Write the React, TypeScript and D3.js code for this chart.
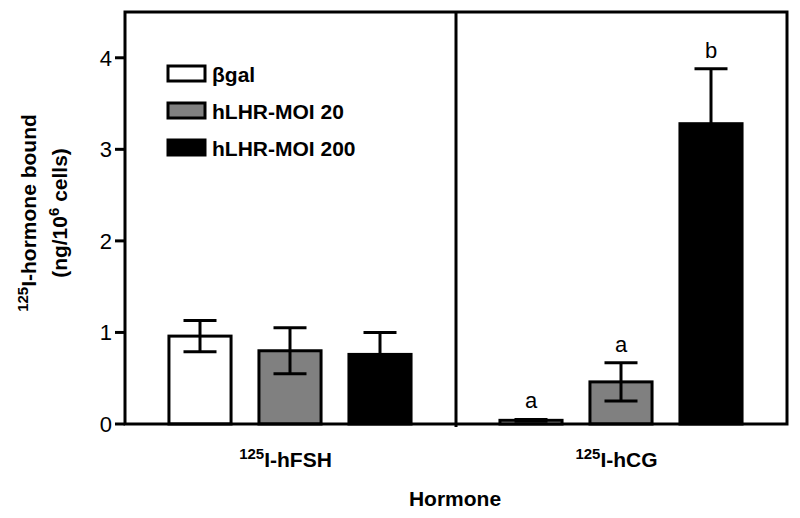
import React from "react";
import * as d3 from "d3";

const groups = ["125I-hFSH", "125I-hCG"];
const series = ["βgal", "hLHR-MOI 20", "hLHR-MOI 200"];
const fills = ["#ffffff", "#808080", "#000000"];
// values[group][series]
const means = [
  [0.96, 0.8, 0.76],
  [0.04, 0.46, 3.28],
];
const errors = [
  [0.17, 0.25, 0.24],
  [0.01, 0.21, 0.6],
];
const letters = [
  ["", "", ""],
  ["a", "a", "b"],
];
const yTicks = [0, 1, 2, 3, 4];

const W = 800;
const H = 518;
const left = 125;
const right = 787;
const top = 12;
const bottom = 424;
const FONT = "'Liberation Sans', Arial, Helvetica, sans-serif";

export default function App() {
  const y = d3.scaleLinear().domain([0, 4.5]).range([bottom, top]);
  const x0 = d3.scaleBand<string>().domain(groups).range([left, right]);
  const x1 = d3
    .scaleBand<string>()
    .domain(series)
    .range([30, 300])
    .paddingInner(0.31)
    .paddingOuter(0.155);
  const bw = x1.bandwidth();
  const capW = 33;
  const divider = x0(groups[1])!;

  const bars: React.ReactNode[] = [];
  groups.forEach((g, gi) => {
    series.forEach((s, si) => {
      const xs = x0(g)! + x1(s)!;
      const cx = xs + bw / 2;
      const v = means[gi][si];
      const e = errors[gi][si];
      const yTop = y(v + e);
      const yBot = y(Math.max(0, v - e));
      bars.push(
        <g key={`${gi}-${si}`}>
          <rect
            x={xs}
            y={y(v)}
            width={bw}
            height={bottom - y(v)}
            fill={fills[si]}
            stroke="#000"
            strokeWidth={3}
          />
          <line x1={cx} x2={cx} y1={yTop} y2={yBot} stroke="#000" strokeWidth={3} />
          <line x1={cx - capW / 2} x2={cx + capW / 2} y1={yTop} y2={yTop} stroke="#000" strokeWidth={3} />
          <line x1={cx - capW / 2} x2={cx + capW / 2} y1={yBot} y2={yBot} stroke="#000" strokeWidth={3} />
          {letters[gi][si] && (
            <text
              x={cx}
              y={yTop - 11}
              textAnchor="middle"
              fontFamily={FONT}
              fontSize={22}
              fill="#000"
            >
              {letters[gi][si]}
            </text>
          )}
        </g>
      );
    });
  });

  const renderGroupLabel = (g: string) => {
    const m = g.match(/^(\d+)(.*)$/);
    const sup = m ? m[1] : "";
    const rest = m ? m[2] : g;
    return (
      <>
        <tspan fontSize={15} dy={-8}>{sup}</tspan>
        <tspan dy={8}>{rest}</tspan>
      </>
    );
  };

  return (
    <svg
      width={W}
      height={H}
      style={{ position: "absolute", left: 0, top: 0, background: "#fff" }}
    >
      <rect x={0} y={0} width={W} height={H} fill="#fff" />
      {bars}
      {/* frame */}
      <rect
        x={left}
        y={top}
        width={right - left}
        height={bottom - top}
        fill="none"
        stroke="#000"
        strokeWidth={3}
      />
      <line x1={divider} x2={divider} y1={top} y2={bottom + 3} stroke="#000" strokeWidth={3} />
      {/* y ticks */}
      {yTicks.map((t) => (
        <g key={t}>
          <line x1={left - 10} x2={left} y1={y(t)} y2={y(t)} stroke="#000" strokeWidth={3} />
          <text
            x={left - 13}
            y={y(t)}
            dy="0.36em"
            textAnchor="end"
            fontFamily={FONT}
            fontSize={22}
            fill="#000"
          >
            {t}
          </text>
        </g>
      ))}
      {/* x group labels */}
      {groups.map((g) => (
        <text
          key={g}
          x={x0(g)! + x0.bandwidth() / 2 - 5}
          y={467}
          textAnchor="middle"
          fontFamily={FONT}
          fontSize={21}
          fontWeight="bold"
          fill="#000"
        >
          {renderGroupLabel(g)}
        </text>
      ))}
      <text
        x={455}
        y={506}
        textAnchor="middle"
        fontFamily={FONT}
        fontSize={21}
        fontWeight="bold"
        fill="#000"
      >
        Hormone
      </text>
      {/* y title */}
      <g transform="translate(0,213)">
        <text
          transform="translate(36,0) rotate(-90)"
          textAnchor="middle"
          fontFamily={FONT}
          fontSize={21}
          fontWeight="bold"
          fill="#000"
        >
          <tspan fontSize={15} dy={-8}>125</tspan>
          <tspan dy={8}>I-hormone bound</tspan>
        </text>
        <text
          transform="translate(67,0) rotate(-90)"
          textAnchor="middle"
          fontFamily={FONT}
          fontSize={21}
          fontWeight="bold"
          fill="#000"
        >
          <tspan>(ng/10</tspan>
          <tspan fontSize={15} dy={-8}>6</tspan>
          <tspan dy={8}> cells)</tspan>
        </text>
      </g>
      {/* legend */}
      {series.map((s, i) => {
        const ly = 66 + i * 37;
        return (
          <g key={s}>
            <rect
              x={168}
              y={ly}
              width={37}
              height={15}
              fill={fills[i]}
              stroke="#000"
              strokeWidth={3}
            />
            <text
              x={212}
              y={ly + 16}
              fontFamily={FONT}
              fontSize={21}
              fontWeight="bold"
              fill="#000"
            >
              {s}
            </text>
          </g>
        );
      })}
    </svg>
  );
}
